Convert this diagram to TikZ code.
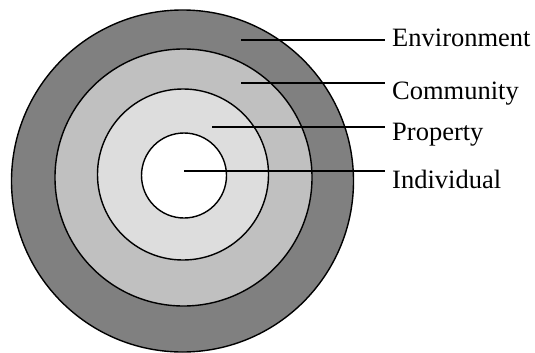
\documentclass[tikz,border=0pt]{standalone}
\usepackage{fontspec}
\setmainfont{Liberation Serif}
\begin{document}
\begin{tikzpicture}[x=1pt,y=-1pt,
  ring/.style={draw=black,line width=1.4pt},
  leader/.style={draw=black,line width=1.4pt},
  lab/.style={anchor=base west,inner sep=0pt,font=\fontsize{26.5}{30}\selectfont}]
\useasboundingbox (0,0) rectangle (535,353);
% rings
\draw[ring,fill={rgb,255:red,128;green,128;blue,128}] (182.5,181) circle[radius=171];
\draw[ring,fill={rgb,255:red,192;green,192;blue,192}] (183.5,177.5) circle[radius=128.5];
\draw[ring,fill={rgb,255:red,221;green,221;blue,221}] (183,174.5) circle[radius=85.5];
\draw[ring,fill=white] (184,175.5) circle[radius=42.5];
% labels
\node[lab] (env) at (392,47) {Environment};
\node[lab] (com) at (392,99) {Community};
\node[lab] (pro) at (392,140.5) {Property};
\node[lab] (ind) at (392,188) {Individual};
% leader ends
\coordinate (envA) at (241,40);  \coordinate (envB) at (385,40);
\coordinate (comA) at (241,83);  \coordinate (comB) at (385,83);
\coordinate (proA) at (212,127); \coordinate (proB) at (385,127);
\coordinate (indA) at (184,171); \coordinate (indB) at (385,171);
\draw[leader] (envA) -- (envB);
\draw[leader] (comA) -- (comB);
\draw[leader] (proA) -- (proB);
\draw[leader] (indA) -- (indB);
\end{tikzpicture}
\end{document}
